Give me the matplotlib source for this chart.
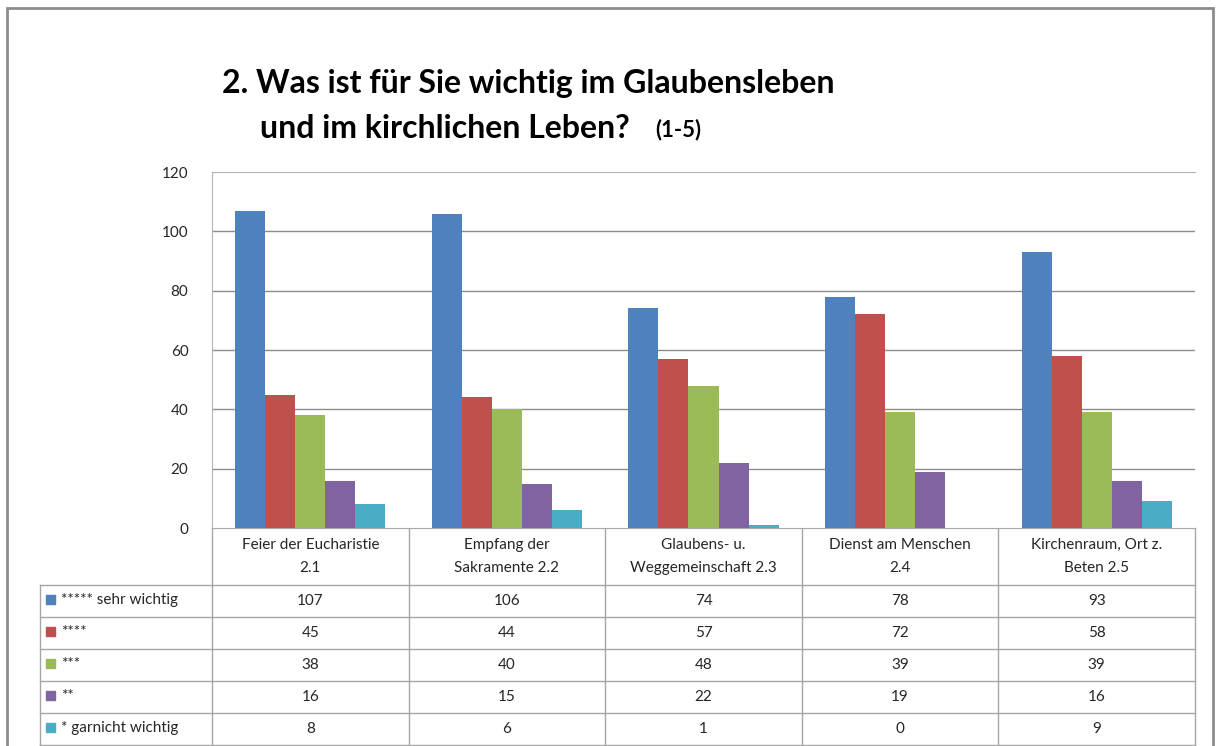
"""
Umfrage: Was ist fuer Sie wichtig im Glaubensleben - Saeulen mit Datentabelle
"""

import numpy as np
import matplotlib
matplotlib.use("Agg")
from matplotlib import pyplot as plt

plt.rcParams['font.family'] = ['Lato', 'DejaVu Sans']

categories = ["Feier der Eucharistie\n2.1",
              "Empfang der\nSakramente 2.2",
              "Glaubens- u.\nWeggemeinschaft 2.3",
              "Dienst am Menschen\n2.4",
              "Kirchenraum, Ort z.\nBeten 2.5"]
series_names = ["***** sehr wichtig", "****", "***", "**", "* garnicht wichtig"]
sehr_wichtig = [107, 106, 74, 78, 93]
vier_sterne = [45, 44, 57, 72, 58]
drei_sterne = [38, 40, 48, 39, 39]
zwei_sterne = [16, 15, 22, 19, 16]
garnicht_wichtig = [8, 6, 1, 0, 9]
series_values = [sehr_wichtig, vier_sterne, drei_sterne, zwei_sterne,
                 garnicht_wichtig]
colors = ['#4F81BD', '#C0504D', '#9BBB59', '#8064A2', '#4BACC6']
yticks = [0, 20, 40, 60, 80, 100, 120]

# layout in pixels
W, H = 1218, 746
plot_left, plot_right, plot_top, plot_bottom = 212, 1195, 172, 528
table_left = 40
header_bottom = 585
row_height = 32
font_size = 11


def draw_frame(ov):
    ov.plot([7, 7, 1213, 1213], [H + 5, 8, 8, H + 5],
            color='#8c8c8c', linewidth=2, solid_joinstyle='miter')


def draw_title(ov):
    ov.text(222, 83, "2. Was ist für Sie wichtig im Glaubensleben",
            fontsize=23, fontweight='bold', va='center', ha='left')
    ov.text(260, 128, "und im kirchlichen Leben?",
            fontsize=23, fontweight='bold', va='center', ha='left')
    ov.text(655, 130, "(1-5)", fontsize=16, fontweight='bold',
            va='center', ha='left')


def draw_table(ov):
    ncat = len(categories)
    col_w = (plot_right - plot_left) / ncat
    nrows = len(series_names)
    table_bottom = header_bottom + nrows * row_height
    line_kw = dict(color='#a6a6a6', linewidth=1)

    # header cells (category names)
    for i in range(ncat + 1):
        x = plot_left + i * col_w
        ov.plot([x, x], [plot_bottom, table_bottom], **line_kw)
    for i, cat in enumerate(categories):
        ov.text(plot_left + (i + 0.5) * col_w, (plot_bottom + header_bottom) / 2,
                cat, ha='center', va='center', fontsize=font_size,
                color='#262626', linespacing=1.75)

    # rows
    ov.plot([table_left, table_left], [header_bottom, table_bottom], **line_kw)
    for r in range(nrows + 1):
        y = header_bottom + r * row_height
        ov.plot([table_left, plot_right], [y, y], **line_kw)
    for r, (name, vals, c) in enumerate(zip(series_names, series_values, colors)):
        yc = header_bottom + (r + 0.5) * row_height
        ov.add_patch(plt.Rectangle((46, yc - 6), 9, 9, color=c))
        ov.text(61, yc - 1, name, ha='left', va='center', fontsize=font_size,
                color='#262626')
        for i, v in enumerate(vals):
            ov.text(plot_left + (i + 0.5) * col_w, yc, str(v), ha='center',
                    va='center', fontsize=font_size, color='#262626')


def draw_bars(ax):
    x = np.arange(len(categories))
    n = len(series_values)
    bar_w = 0.153
    for k, (vals, c) in enumerate(zip(series_values, colors)):
        offs = (k - (n - 1) / 2) * bar_w
        ax.bar(x + offs, vals, width=bar_w, color=c, zorder=3)
    ax.set_xlim(-0.5, len(categories) - 0.5)
    ax.set_ylim(0, 120)
    ax.set_yticks(yticks)
    ax.set_yticklabels([str(t) for t in yticks], fontsize=font_size,
                       color='#262626')
    ax.tick_params(axis='y', length=0, pad=17)
    ax.set_xticks([])
    for y in yticks[1:-1]:
        ax.axhline(y, color='#8c8c8c', linewidth=1, zorder=1)
    for s in ['top', 'left', 'right']:
        ax.spines[s].set_color('#b4b4b4')
    ax.spines['right'].set_visible(False)
    ax.spines['bottom'].set_color('#a6a6a6')


def main():
    fig = plt.figure(figsize=(W / 100, H / 100), dpi=100)
    ov = fig.add_axes([0, 0, 1, 1])
    ov.set_xlim(0, W)
    ov.set_ylim(H, 0)
    ov.axis('off')

    ax = fig.add_axes([plot_left / W, 1 - plot_bottom / H,
                       (plot_right - plot_left) / W,
                       (plot_bottom - plot_top) / H])
    draw_bars(ax)
    draw_frame(ov)
    draw_title(ov)
    draw_table(ov)
    fig.savefig("out.png", dpi=100)


if __name__ == '__main__':
    main()
